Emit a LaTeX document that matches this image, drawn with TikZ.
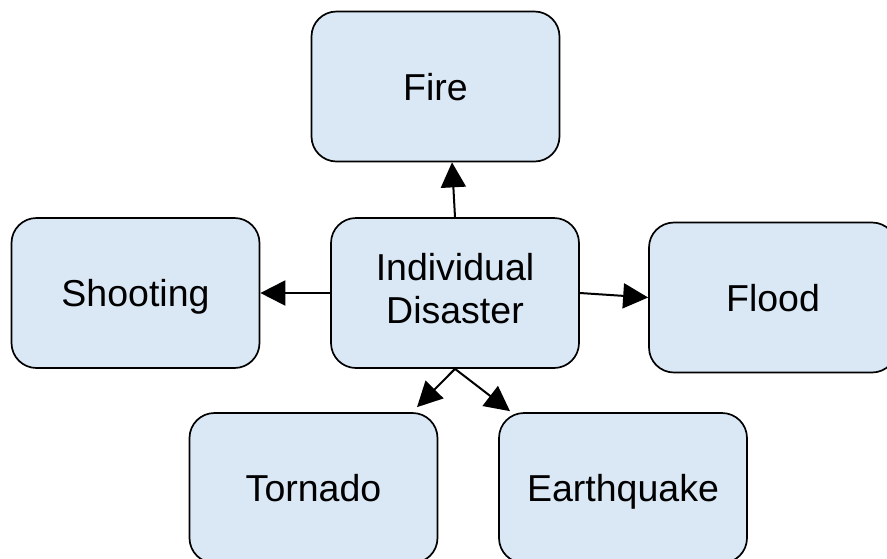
\documentclass[tikz,border=0pt]{standalone}
\usepackage{fontspec}
\setmainfont{Liberation Sans}
\usetikzlibrary{arrows.meta}
\definecolor{boxfill}{RGB}{218,231,245}
\begin{document}
\begin{tikzpicture}[x=1pt,y=-1pt,
  box/.style={draw=black, line width=1.7pt, fill=boxfill, rounded corners=25pt,
    minimum width=248pt, minimum height=150pt, inner sep=0pt, align=center,
    text height=27pt, text depth=0pt, font=\fontsize{37.5}{43}\selectfont},
  link/.style={line width=2pt, -{Triangle[length=25pt,width=25pt]}}]
\useasboundingbox (0,0) rectangle (887,558);
\begin{scope}
  \clip (0,0) rectangle (887,558);
  % category boxes around the central topic
  \node[box] (fire)   at (435.5,86.5) {Fire};
  \node[box] (shoot)  at (135.5,293)  {Shooting};
  \node[box, text height=67pt, text depth=7pt] (hub) at (455,293) {Individual\\Disaster};
  \node[box] (flood)  at (773,297.5)  {Flood};
  \node[box] (torn)   at (313.5,488)  {Tornado};
  \node[box] (quake)  at (623,488)    {Earthquake};
  % connectors from the central topic
  \draw[link] (hub.north) -- ([xshift=16.5pt]fire.south);
  \draw[link] (hub.west) -- (shoot.east);
  \draw[link] (hub.east) -- (flood.west);
  \draw[link] (hub.south) -- ([xshift=103.5pt,yshift=5pt]torn.north);
  \draw[link] (hub.south) -- ([xshift=-113pt,yshift=1pt]quake.north);
\end{scope}
\end{tikzpicture}
\end{document}
